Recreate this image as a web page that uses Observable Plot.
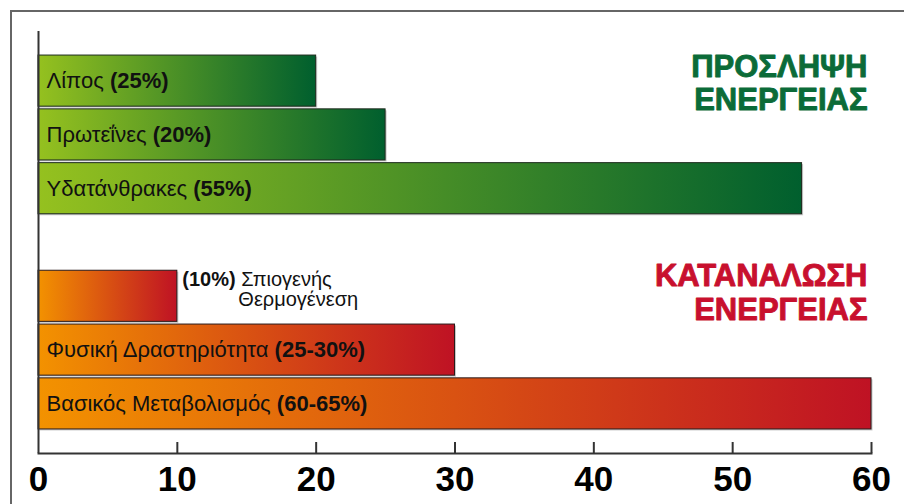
<!DOCTYPE html>
<html><head><meta charset="utf-8">
<script src="https://cdn.jsdelivr.net/npm/d3@7"></script>
<script src="https://cdn.jsdelivr.net/npm/@observablehq/plot@0.6"></script>
<style>
html,body{margin:0;padding:0;background:#fff;overflow:hidden;width:904px;height:504px;}
#wrap{position:relative;width:904px;height:504px;overflow:hidden;}
#border{position:absolute;left:10px;top:10px;width:1200px;height:1200px;border:2px solid #666;box-sizing:border-box;}
#chart{position:absolute;left:0;top:0;}
</style></head><body><div id="wrap"><div id="border"></div><div id="chart"></div></div>
<script>
// ---- data ----
const intakeNames = ["Λίπος", "Πρωτεΐνες", "Υδατάνθρακες"];
const intakePcts = ["(25%)", "(20%)", "(55%)"];
const intakeValues = [20, 25, 55];
const expenditureNames = ["Σπιογενής Θερμογένεση", "Φυσική Δραστηριότητα", "Βασικός Μεταβολισμός"];
const expenditurePcts = ["(10%)", "(25-30%)", "(60-65%)"];
const expenditureValues = [10, 30, 60];
const groupTitles = ["ΠΡΟΣΛΗΨΗ\nΕΝΕΡΓΕΙΑΣ", "ΚΑΤΑΝΑΛΩΣΗ\nΕΝΕΡΓΕΙΑΣ"];
const xTicks = [0, 10, 20, 30, 40, 50, 60];
const spacer = " ";

const intake = intakeNames.map((n, i) => ({name: n, pct: intakePcts[i], value: intakeValues[i]}));
const expenditure = expenditureNames.map((n, i) => ({name: n, pct: expenditurePcts[i], value: expenditureValues[i]}));
const all = [...intake, ...expenditure];
const inside = all.filter(d => d.value >= 15);
const outside = all.filter(d => d.value < 15);
const titles = [
  {text: groupTitles[0], anchor: intakeNames[0]},
  {text: groupTitles[1], anchor: expenditureNames[0]}
];

const FONT = "'Liberation Sans', Arial, Helvetica, sans-serif";

const plot = Plot.plot({
  width: 904,
  height: 504,
  marginLeft: 38,
  marginRight: 33,
  marginTop: 31,
  marginBottom: 51,
  style: {background: "transparent", fontFamily: FONT, overflow: "visible"},
  x: {domain: [0, 60], axis: null},
  y: {domain: [...intakeNames, spacer, ...expenditureNames], paddingInner: 0.05, paddingOuter: 0.447, round: false, axis: null},
  marks: [
    // shadows
    Plot.barX(all, {x: "value", y: "name", fill: "#9a9a9a", fillOpacity: 0.55, dx: 1.5, dy: 1.5}),
    Plot.barX(intake, {x: "value", y: "name", fill: "url(#gGreen)", stroke: "#1d2a1d", strokeWidth: 1}),
    Plot.barX(expenditure, {x: "value", y: "name", fill: "url(#gOrange)", stroke: "#2a1a1a", strokeWidth: 1}),
    // axes
    Plot.ruleX([0], {stroke: "#333", strokeWidth: 2}),
    Plot.frame({anchor: "bottom", stroke: "#333", strokeWidth: 2}),
    Plot.ruleX(xTicks.filter(t => t > 0), {x: d => d, stroke: "#333", strokeWidth: 2, insetTop: 411}),
    Plot.axisX({ticks: xTicks, tickSize: 0, tickPadding: 13, fontSize: 35, fontWeight: "bold", fill: "#000", label: null, tickFormat: d => String(d)}),
    // labels inside bars
    Plot.text(inside, {x: 0, y: "name", text: d => d.name + " " + d.pct, textAnchor: "start", dx: 8, dy: 0, fontSize: 22, fill: "#111"}),
    // labels outside bars
    Plot.text(outside, {x: "value", y: "name", text: d => d.pct + " " + d.name.split(" ")[0], textAnchor: "start", dx: 5, dy: -17, fontSize: 20, fill: "#111"}),
    Plot.text(outside, {x: "value", y: "name", text: d => d.name.split(" ").slice(1).join(" "), textAnchor: "start", dx: 61, dy: 3, fontSize: 20, fill: "#111"}),
    // group titles
    Plot.text(titles.slice(0, 1), {x: () => 60, y: "anchor", text: "text", textAnchor: "end", dx: -4, dy: 2, fontSize: 31, fontWeight: "bold", lineHeight: 1.06, fill: "#0b6b38", stroke: "#0b6b38", strokeWidth: 0.9}),
    Plot.text(titles.slice(1), {x: () => 60, y: "anchor", text: "text", textAnchor: "end", dx: -4, dy: -4, fontSize: 31, fontWeight: "bold", lineHeight: 1.1, fill: "#c8102e", stroke: "#c8102e", strokeWidth: 0.9})
  ]
});

const svg = d3.select(plot);
const defs = svg.insert("defs", ":first-child");
function grad(id, stops) {
  const g = defs.append("linearGradient").attr("id", id).attr("x1", 0).attr("x2", 1).attr("y1", 0).attr("y2", 0);
  stops.forEach(([o, c]) => g.append("stop").attr("offset", o).attr("stop-color", c));
}
grad("gGreen", [[0, "#95c11f"], [1, "#005f2e"]]);
grad("gOrange", [[0, "#f39200"], [1, "#bf1224"]]);

// bold percentages
svg.selectAll("text").each(function () {
  if (this.querySelector("tspan")) return;
  const t = this.textContent;
  const m = t.match(/\(\d[\d\-]*%\)/);
  if (!m) return;
  const before = t.slice(0, m.index), after = t.slice(m.index + m[0].length);
  const sel = d3.select(this);
  sel.text(null);
  if (before) sel.append("tspan").text(before);
  sel.append("tspan").attr("font-weight", "bold").text(m[0]);
  if (after) sel.append("tspan").text(after);
});

document.getElementById("chart").appendChild(plot);
</script>
</body></html>
